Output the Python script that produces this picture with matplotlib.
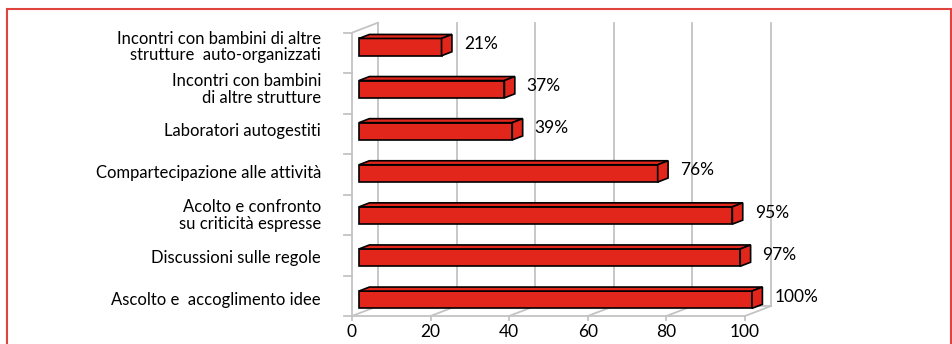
import matplotlib
matplotlib.use("Agg")
import matplotlib.pyplot as plt
from matplotlib.patches import Polygon, Rectangle

plt.rcParams["font.family"] = ["Lato", "DejaVu Sans"]

# attività, dall'alto verso il basso
categorie = [
    "Incontri con bambini di altre\nstrutture  auto-organizzati",
    "Incontri con bambini\ndi altre strutture",
    "Laboratori autogestiti",
    "Compartecipazione alle attività",
    "Acolto e confronto\nsu criticità espresse",
    "Discussioni sulle regole",
    "Ascolto e  accoglimento idee",
]
valori = [21, 37, 39, 76, 95, 97, 100]
etichette = ["21%", "37%", "39%", "76%", "95%", "97%", "100%"]
tick_x = [0, 20, 40, 60, 80, 100]

ROSSO = "#e3261c"
GRIGIO = "#c3c3c3"
FS = 12

W, H = 953, 344
fig = plt.figure(figsize=(W / 100, H / 100), dpi=100)
ax = fig.add_axes([0, 0, 1, 1])
ax.axis("off")

# scala: 3.93 px per unità in x, 42.1 px per categoria in y
PX_X = 3.93
PX_Y = 42.1
X0_PX, Y0_PX = 352, 299.7
ax.set_xlim(-X0_PX / PX_X, (W - X0_PX) / PX_X)
ax.set_ylim((Y0_PX - H) / PX_Y, Y0_PX / PX_Y)

# profondità del grafico (proiezione obliqua)
DX = 26 / PX_X
DY = 10 / PX_Y
y_bot = (Y0_PX - 316) / PX_Y
y_top = (Y0_PX - 32.7) / PX_Y

lw = 1.3
# parete di fondo: griglia verticale
for t in tick_x:
    ax.plot([t + DX, t + DX], [y_bot + DY, y_top + DY], color=GRIGIO, lw=lw, zorder=1)
    # pavimento: linee diagonali e tacche
    ax.plot([t, t + DX], [y_bot, y_bot + DY], color=GRIGIO, lw=lw, zorder=1)
    ax.plot([t, t], [y_bot, y_bot - 4 / PX_Y], color=GRIGIO, lw=lw, zorder=1)
    ax.text(t, (Y0_PX - 332) / PX_Y, str(t), ha="center", va="center", fontsize=FS + 0.5)
ax.plot([0, tick_x[-1]], [y_bot, y_bot], color=GRIGIO, lw=lw, zorder=1)
ax.plot([DX, tick_x[-1] + DX], [y_bot + DY, y_bot + DY], color=GRIGIO, lw=lw, zorder=1)
# parete sinistra
ax.plot([0, 0], [y_bot, y_top], color=GRIGIO, lw=lw, zorder=1)
ax.plot([0, DX], [y_top, y_top + DY], color=GRIGIO, lw=lw, zorder=1)
n = len(categorie)
for i in range(n + 1):
    yt = y_bot + (y_top - y_bot) * i / n
    ax.plot([-8 / PX_X, 0], [yt, yt], color=GRIGIO, lw=lw, zorder=1)

# barre 3D
h = 17.3 / PX_Y
bdx, bdy = 0.4 * DX, 0.4 * DY
xs = 7 / PX_X
for i, (cat, v, lab) in enumerate(zip(categorie, valori, etichette)):
    c = n - 1 - i
    x0, x1 = xs, xs + v
    lo, hi = c - h / 2, c + h / 2
    facce = [
        [(x0, lo), (x1, lo), (x1, hi), (x0, hi)],
        [(x0, hi), (x1, hi), (x1 + bdx, hi + bdy), (x0 + bdx, hi + bdy)],
        [(x1, lo), (x1 + bdx, lo + bdy), (x1 + bdx, hi + bdy), (x1, hi)],
    ]
    for f in facce:
        ax.add_patch(Polygon(f, closed=True, facecolor=ROSSO, edgecolor="black",
                             lw=1.2, joinstyle="miter", zorder=3))
    ax.text(x1 + bdx + 12 / PX_X, c + 3 / PX_Y, lab, ha="left", va="center", fontsize=FS + 0.5)
    ax.text(-31 / PX_X, c, cat, ha="right", va="center", fontsize=FS,
            linespacing=1.05, multialignment="right")

# cornice rossa
fig.patches.append(Rectangle((7 / W, -0.2), (951 - 7) / W, 1.2 - 9 / H,
                             transform=fig.transFigure, fill=False,
                             edgecolor="#e0443f", lw=1.5))

fig.savefig("out.png", dpi=100)
